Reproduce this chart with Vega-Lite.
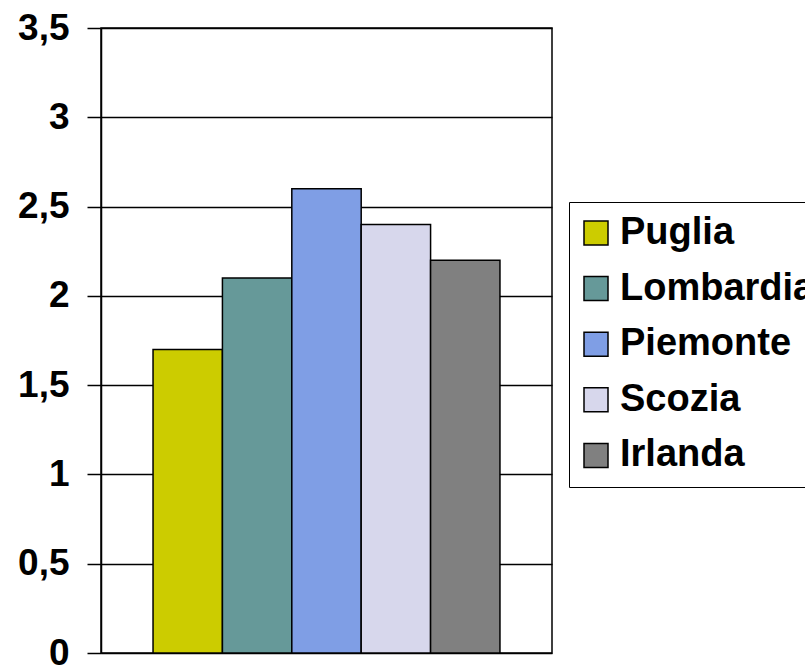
{
  "$schema": "https://vega.github.io/schema/vega-lite/v6.json",
  "width": 451,
  "height": 625,
  "autosize": {"type": "none"},
  "padding": {"left": 101, "top": 28, "right": 253, "bottom": 12},
  "background": "white",
  "config": {
    "font": "Liberation Sans",
    "view": {"stroke": "black", "strokeWidth": 1.5}
  },
  "data": {
    "values": [
      {"regione": "Puglia", "valore": 1.7},
      {"regione": "Lombardia", "valore": 2.1},
      {"regione": "Piemonte", "valore": 2.6},
      {"regione": "Scozia", "valore": 2.4},
      {"regione": "Irlanda", "valore": 2.2}
    ]
  },
  "mark": {"type": "bar", "stroke": "black", "strokeWidth": 1.5},
  "encoding": {
    "x": {
      "field": "regione",
      "type": "nominal",
      "sort": null,
      "scale": {"paddingInner": 0, "paddingOuter": 0.75},
      "axis": null
    },
    "y": {
      "field": "valore",
      "type": "quantitative",
      "scale": {"domain": [0, 3.5], "nice": false},
      "axis": {
        "title": null,
        "values": [0, 0.5, 1, 1.5, 2, 2.5, 3, 3.5],
        "labelExpr": "replace(format(datum.value, '.1~f'), '.', ',')",
        "labelFont": "Liberation Sans",
        "labelFontWeight": "bold",
        "labelFontSize": 37,
        "labelColor": "black",
        "labelPadding": 18,
        "tickSize": 14,
        "tickColor": "black",
        "tickWidth": 1.5,
        "domainColor": "black",
        "domainWidth": 1.5,
        "grid": true,
        "gridColor": "black",
        "gridWidth": 1.5,
        "gridOpacity": 1
      }
    },
    "color": {
      "field": "regione",
      "type": "nominal",
      "sort": null,
      "scale": {
        "domain": ["Puglia", "Lombardia", "Piemonte", "Scozia", "Irlanda"],
        "range": ["#CCCC00", "#669999", "#7F9EE5", "#D7D7EC", "#808080"]
      },
      "legend": {
        "title": null,
        "orient": "none",
        "legendX": 468,
        "legendY": 174,
        "symbolType": "square",
        "symbolSize": 576,
        "symbolStrokeColor": "black",
        "symbolStrokeWidth": 1.5,
        "symbolOpacity": 1,
        "symbolOffset": -4,
        "labelFont": "Liberation Sans",
        "labelFontWeight": "bold",
        "labelFontSize": 38,
        "labelColor": "black",
        "labelOffset": 5,
        "labelLimit": 400,
        "rowPadding": 17.6,
        "padding": 12,
        "strokeColor": "black",
        "fillColor": "white"
      }
    }
  }
}
